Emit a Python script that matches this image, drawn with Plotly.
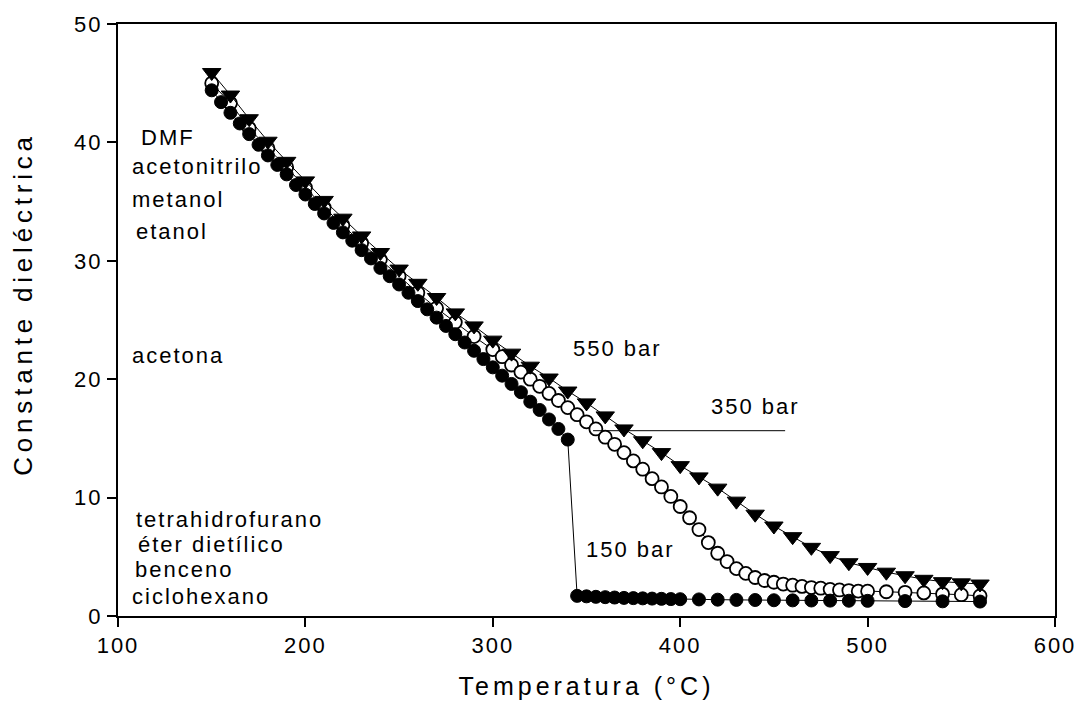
import plotly.graph_objects as go

# ---------------- data ----------------
# 150 bar (filled circles)
t150 = [150,155,160,165,170,175,180,185,190,195,200,205,210,215,220,225,230,235,240,245,
        250,255,260,265,270,275,280,285,290,295,300,305,310,315,320,325,330,335,340,
        345,350,355,360,365,370,375,380,385,390,395,400,
        410,420,430,440,450,460,470,480,490,500,520,540,560]
e150 = [44.4,43.4,42.5,41.6,40.7,39.8,38.9,38.1,37.3,36.4,35.6,34.8,34.0,33.2,32.4,31.7,30.9,30.2,29.4,28.7,
        28.0,27.3,26.6,25.9,25.2,24.5,23.8,23.1,22.4,21.7,21.0,20.3,19.6,18.9,18.1,17.4,16.6,15.8,14.9,
        1.70,1.66,1.62,1.59,1.56,1.53,1.51,1.49,1.47,1.45,1.43,1.42,
        1.40,1.38,1.36,1.35,1.33,1.32,1.31,1.30,1.29,1.28,1.26,1.24,1.22]

# 350 bar (open circles)
t350 = [150,160,170,180,190,200,210,220,230,240,250,260,270,280,290,
        300,305,310,315,320,325,330,335,340,345,350,355,360,365,370,375,380,385,390,395,
        400,405,410,415,420,425,430,435,440,445,450,455,460,465,470,475,480,485,490,495,500,
        510,520,530,540,550,560]
e350 = [45.0,43.3,41.2,39.5,37.9,36.2,34.5,33.0,31.5,30.1,28.7,27.3,26.0,24.8,23.6,
        22.5,21.9,21.2,20.6,20.0,19.4,18.8,18.2,17.6,17.0,16.4,15.8,15.1,14.5,13.8,13.1,12.4,11.6,10.9,10.1,
        9.25,8.3,7.3,6.2,5.3,4.6,4.0,3.6,3.25,3.0,2.85,2.7,2.6,2.5,2.4,2.35,2.25,2.2,2.15,2.1,2.1,
        2.05,2.0,1.95,1.85,1.8,1.7]

# 550 bar (triangles)
t550 = [150,160,170,180,190,200,210,220,230,240,250,260,270,280,290,300,310,320,330,340,
        350,360,370,380,390,400,410,420,430,440,450,460,470,480,490,500,510,520,530,540,550,560]
e550 = [45.9,44.0,42.0,40.1,38.4,36.75,35.1,33.6,32.1,30.7,29.3,28.1,26.9,25.6,24.5,23.3,22.2,21.1,20.1,19.0,
        18.0,16.9,15.8,14.8,13.8,12.7,11.75,10.8,9.7,8.6,7.6,6.7,5.8,5.1,4.5,4.1,3.7,3.4,3.1,2.9,2.8,2.7]

# solvent labels (left side)
solv_names = ["DMF", "acetonitrilo", "metanol", "etanol", "acetona",
              "tetrahidrofurano", "éter dietílico", "benceno", "ciclohexano"]
solv_x = [111.1, 106.4, 106.4, 108.5, 106.4, 108.5, 109.5, 107.9, 106.4]
solv_y = [40.4, 38.0, 35.2, 32.5, 22.0, 8.17, 6.08, 3.92, 1.67]

# pressure labels
p_names = ["550 bar", "350 bar", "150 bar"]
p_x = [366.4, 440.0, 373.3]
p_y = [22.6, 17.7, 5.6]

# leader line for 350 bar label
lead_x = [353.5, 456.0]
lead_y = 15.65

x_ticks = [100, 200, 300, 400, 500, 600]
y_ticks = [0, 10, 20, 30, 40, 50]

x_title = "Temperatura (°C)"
y_title = "Constante dieléctrica"

FONT = "Liberation Sans, Arial, sans-serif"


def spaced(txt, px):
    return '<span style="letter-spacing:%.1fpx">%s</span>' % (px, txt)


fig = go.Figure()

fig.add_trace(go.Scatter(
    x=t350, y=e350, mode="lines+markers", name="350 bar",
    line=dict(color="black", width=1),
    marker=dict(symbol="circle", size=13, color="white",
                line=dict(color="black", width=1.8)),
))
fig.add_trace(go.Scatter(
    x=t150, y=e150, mode="lines+markers", name="150 bar",
    line=dict(color="black", width=1),
    marker=dict(symbol="circle", size=13, color="black",
                line=dict(color="black", width=1)),
))
fig.add_trace(go.Scatter(
    x=t550, y=e550, mode="lines+markers", name="550 bar",
    line=dict(color="black", width=1),
    marker=dict(symbol="triangle-down", size=16, color="black",
                line=dict(color="black", width=1)),
))

for name, x, y in zip(solv_names, solv_x, solv_y):
    fig.add_annotation(x=x, y=y, text=spaced(name, 2), showarrow=False, xanchor="left",
                       yanchor="middle", font=dict(family=FONT, size=22, color="black"))

for name, x, y in zip(p_names, p_x, p_y):
    fig.add_annotation(x=x, y=y, text=spaced(name, 2), showarrow=False, xanchor="center",
                       yanchor="middle", font=dict(family=FONT, size=22, color="black"))

# y-axis title (placed as rotated text, slightly above the axis centre as in the original)
fig.add_annotation(x=-0.1017, y=0.527, xref="paper", yref="paper",
                   text=spaced(y_title, 4.8), textangle=-90, showarrow=False,
                   xanchor="center", yanchor="middle",
                   font=dict(family=FONT, size=26, color="black"))

fig.add_shape(type="line", x0=lead_x[0], x1=lead_x[1], y0=lead_y, y1=lead_y,
              xref="x", yref="y", line=dict(color="black", width=1))

fig.update_layout(
    width=1088, height=714,
    margin=dict(l=118, r=26, t=16, b=98),
    paper_bgcolor="white", plot_bgcolor="white",
    showlegend=False,
    font=dict(family=FONT, size=22, color="black"),
)
fig.update_xaxes(
    range=[100, 600], tickvals=x_ticks, ticktext=[spaced(str(v), 2) for v in x_ticks],
    showgrid=False, zeroline=False,
    showline=True, linecolor="black", linewidth=2, mirror=True,
    ticks="outside", ticklen=9, tickwidth=1.5, tickcolor="black",
    tickfont=dict(family=FONT, size=22),
    title=dict(text=spaced(x_title, 4), font=dict(family=FONT, size=25), standoff=20),
)
fig.update_yaxes(
    range=[0, 50], tickvals=y_ticks, ticktext=[spaced(str(v), 2) for v in y_ticks],
    showgrid=False, zeroline=False,
    showline=True, linecolor="black", linewidth=2, mirror=True,
    ticks="outside", ticklen=9, tickwidth=1.5, tickcolor="black",
    tickfont=dict(family=FONT, size=22),
)

fig.write_html("out.html")
